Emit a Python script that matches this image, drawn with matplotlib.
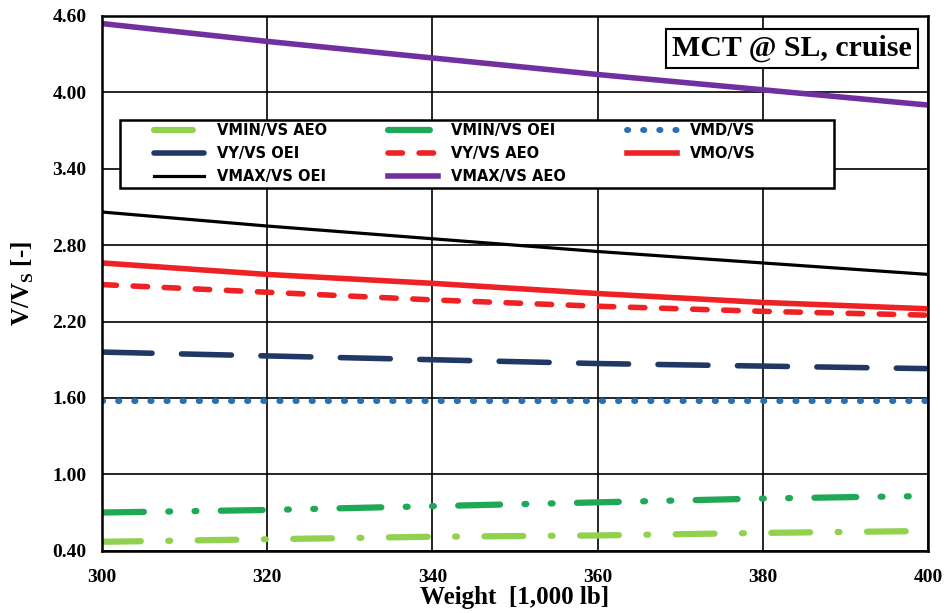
import matplotlib
matplotlib.use("Agg")
import matplotlib.pyplot as plt
from matplotlib.patches import Rectangle

# weight axis [1,000 lb]
weight = [300, 320, 340, 360, 380, 400]

# speed ratios V/Vs at each weight
vmin_aeo = [0.47, 0.49, 0.51, 0.52, 0.54, 0.555]
vmin_oei = [0.70, 0.72, 0.75, 0.78, 0.81, 0.83]
vmd = [1.575, 1.575, 1.575, 1.575, 1.575, 1.575]
vy_oei = [1.96, 1.93, 1.90, 1.87, 1.85, 1.83]
vy_aeo = [2.49, 2.43, 2.37, 2.32, 2.28, 2.25]
vmo = [2.66, 2.57, 2.50, 2.42, 2.35, 2.30]
vmax_oei = [3.06, 2.95, 2.85, 2.75, 2.66, 2.57]
vmax_aeo = [4.54, 4.40, 4.27, 4.14, 4.02, 3.90]

yticks = [0.40, 1.00, 1.60, 2.20, 2.80, 3.40, 4.00, 4.60]
xticks = [300, 320, 340, 360, 380, 400]

serif = "Liberation Serif"

fig = plt.figure(figsize=(9.5, 6.13), dpi=100)
ax = fig.add_axes([0.1074, 0.1016, 0.8695, 0.8724])

h = {}
h["VMIN/VS AEO"], = ax.plot(weight, vmin_aeo, color="#92D050", lw=4.5,
                            dashes=(6.2, 4.4, 0.3, 4.4), dash_capstyle="round")
h["VMIN/VS OEI"], = ax.plot(weight, vmin_oei, color="#1FA855", lw=4.5,
                            dashes=(6.7, 3.9, 0.3, 3.9, 0.3, 3.9), dash_capstyle="round")
h["VMD/VS"], = ax.plot(weight, vmd, color="#2A6FB0", lw=4.3, dashes=(0.2, 2.5),
                       dash_capstyle="round")
h["VY/VS OEI"], = ax.plot(weight, vy_oei, color="#1F3864", lw=4.0, dashes=(9.0, 5.3),
                          dash_capstyle="round")
h["VY/VS AEO"], = ax.plot(weight, vy_aeo, color="#EE2224", lw=4.0, dashes=(2.6, 3.0),
                          dash_capstyle="round")
h["VMO/VS"], = ax.plot(weight, vmo, color="#EE2224", lw=4.0)
h["VMAX/VS OEI"], = ax.plot(weight, vmax_oei, color="black", lw=2.3)
h["VMAX/VS AEO"], = ax.plot(weight, vmax_aeo, color="#7030A0", lw=4.0)

ax.set_xlim(300, 400)
ax.set_ylim(0.40, 4.60)
ax.set_xticks(xticks)
ax.set_yticks(yticks)
ax.set_yticklabels(["%.2f" % v for v in yticks])
ax.tick_params(axis="x", length=0, pad=13)
ax.tick_params(axis="y", length=0, pad=11)
for lab in ax.get_xticklabels() + ax.get_yticklabels():
    lab.set_family(serif)
    lab.set_fontweight("bold")
    lab.set_fontsize(14)
ax.grid(True, color="black", lw=1.2)
ax.set_axisbelow(True)
for sp in ax.spines.values():
    sp.set_linewidth(1.8)

ax.set_xlabel("Weight  [1,000 lb]", family=serif, fontweight="bold",
              fontsize=18, labelpad=0)
ax.set_ylabel(r"V/V$_\mathregular{S}$ [-]", family=serif, fontweight="bold",
              fontsize=18, labelpad=12)

# legend frame drawn separately so the entries can sit well inside it
ax.add_patch(Rectangle((0.0218, 0.678), 0.864, 0.1275, transform=ax.transAxes,
                       fc="white", ec="black", lw=1.8, zorder=4))

# entries read row by row: AEO/OEI minimum, climb, maximum
order = ["VMIN/VS AEO", "VY/VS OEI", "VMAX/VS OEI",
         "VMIN/VS OEI", "VY/VS AEO", "VMAX/VS AEO",
         "VMD/VS", "VMO/VS"]
leg = ax.legend([h[k] for k in order], order, ncol=3, loc="upper left",
                bbox_to_anchor=(0.063, 0.800), frameon=False,
                prop={"family": "DejaVu Sans", "weight": "bold", "size": 10.5},
                handlelength=3.4, handletextpad=0.9, columnspacing=4.2,
                labelspacing=0.55, borderpad=0, borderaxespad=0)
leg.set_zorder(5)

ax.text(0.980, 0.939, "MCT @ SL, cruise", transform=ax.transAxes,
        ha="right", va="center", family=serif, fontweight="bold", fontsize=21.5,
        bbox=dict(boxstyle="square,pad=0.2", fc="white", ec="black", lw=1.5))

fig.savefig("out.png", dpi=100)
